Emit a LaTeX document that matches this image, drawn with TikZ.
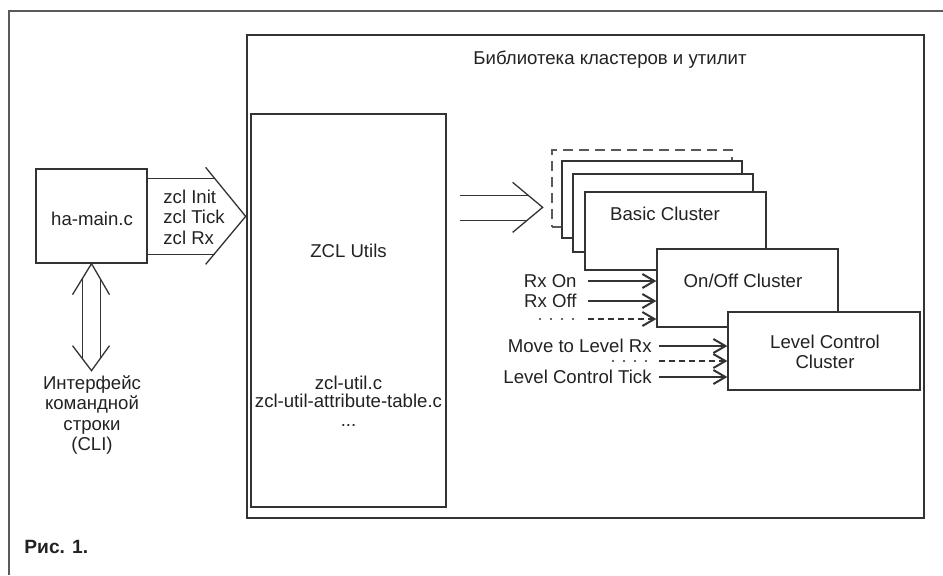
\documentclass[tikz,border=0pt]{standalone}
\usepackage{fontspec}
\setmainfont{Liberation Sans}
\usetikzlibrary{arrows.meta}
\definecolor{ln}{HTML}{333333}
\definecolor{frm}{HTML}{5A5A5A}
\definecolor{tx}{HTML}{222222}
\begin{document}
\begin{tikzpicture}[x=0.5pt,y=-0.5pt,
  box/.style={draw=ln, fill=white, line width=0.65pt, inner sep=0pt},
  dbox/.style={box, draw=frm, dash pattern=on 5pt off 3pt},
  txt/.style={text=tx, font=\fontsize{9.3}{10.2}\selectfont, inner sep=0pt},
  wide/.style={draw=ln, line width=0.65pt},
  arr/.style={draw=ln, line width=0.65pt, -{Straight Barb[length=6pt,width=7pt,line width=1pt]}},
  dsh/.style={arr, dash pattern=on 3pt off 2pt},
  dotline/.style={draw=ln, line width=1.1pt, line cap=round, dash pattern=on 0pt off 5.5pt}
]
\useasboundingbox (0,0) rectangle (943,575);
% outer frame
\draw[frm, line width=0.7pt] (9,575) -- (9,11) -- (943,11);

% library
\node[box, minimum width=338.5pt, minimum height=241.5pt] (lib) at (585.5,276.5) {};
\node[txt] (libt) at (610,60) {Библиотека кластеров и утилит};

% ZCL utils
\node[box, minimum width=97.5pt, minimum height=196.5pt] (zcl) at (348.5,310.5) {};
\node[txt] (zclt) at (348.5,251) {ZCL Utils};
\node[txt, align=center, font=\fontsize{9.3}{9.3}\selectfont] (zclf) at (348.5,401) {zcl-util.c\\zcl-util-attribute-table.c\\...};

% ha-main
\node[box, minimum width=55.5pt, minimum height=47pt] (ha) at (91.5,216) {};
\node[txt] (hat) at (92,219) {ha-main.c};
\node[txt, align=left, anchor=west, font=\fontsize{9.3}{10.25}\selectfont] (zcli) at (163,217) {zcl Init\\zcl Tick\\zcl Rx};

% wide arrow ha -> zcl
\draw[wide] (ha.north east) ++(0,10) -- ++(67,0);
\draw[wide] (ha.south east) ++(0,-9) -- ++(67,0);
\draw[wide] (ha.north east) ++(58,-1) -- ++(40,49) -- ++(-40,48);

% CLI
\node[txt, align=center, font=\fontsize{9.3}{10.15}\selectfont] (cli) at (92,415) {Интерфейс\\командной\\строки\\(CLI)};
\draw[wide] (ha.south) ++(-9,15) -- ++(0,80);
\draw[wide] (ha.south) ++(9,16) -- ++(0,78);
\draw[wide] (ha.south) ++(-19,31) -- (ha.south) -- ++(18,31);
\draw[wide] (ha.south) ++(-19,82) -- ++(19,25) -- ++(18,-25);

% wide arrow zcl -> clusters
\draw[wide] (zcl.north east) ++(13,82) -- ++(68.6,0);
\draw[wide] (zcl.north east) ++(13,107) -- ++(67.4,0);
\draw[wide] (zcl.north east) ++(66,69) -- ++(30,25) -- ++(-30,25);

% cluster stack
\node[dbox, minimum width=90pt, minimum height=38.5pt] (c0) at (642,188.5) {};
\node[box, minimum width=90pt, minimum height=38.5pt] (c1) at (652,199.5) {};
\node[box, minimum width=90pt, minimum height=39pt] (c2) at (663,213) {};
\node[box, minimum width=90.5pt, minimum height=39pt] (basic) at (675.5,231) {};
\node[txt] (basict) at (665,214) {Basic Cluster};
\node[box, minimum width=90.5pt, minimum height=39pt] (onoff) at (747.5,288) {};
\node[txt] (onofft) at (743,281) {On/Off Cluster};
\node[box, minimum width=96pt, minimum height=39pt] (level) at (824,351) {};
\node[txt, align=center] (levelt) at (825,352) {Level Control\\Cluster};

% inputs to On/Off
\node[txt, anchor=east] (rxon) at (577,281) {Rx On};
\draw[arr, shorten <=5.5pt] (rxon.east) -- (rxon.east -| onoff.west);
\node[txt, anchor=east] (rxoff) at (577,301) {Rx Off};
\draw[arr, shorten <=5.5pt] (rxoff.east) -- (rxoff.east -| onoff.west);
\coordinate (d1) at (540,319);
\draw[dotline] (d1) -- ++(35,0);
\draw[dsh] (d1) ++(48,0) -- (onoff.west |- d1);

% inputs to Level Control
\node[txt, anchor=east] (mv) at (652,346) {Move to Level Rx};
\draw[arr, shorten <=3.5pt] (mv.east) -- (mv.east -| level.west);
\coordinate (d2) at (613,361);
\draw[dotline] (d2) -- ++(35,0);
\draw[dsh] (d2) ++(46,0) -- (level.west |- d2);
\node[txt, anchor=east] (tick) at (652,377) {Level Control Tick};
\draw[arr, shorten <=3.5pt] (tick.east) -- (tick.east -| level.west);

% caption
\node[txt, anchor=west, font=\bfseries\fontsize{9.6}{11}\selectfont] (fig) at (24,547) {Рис. 1.};
\end{tikzpicture}
\end{document}
